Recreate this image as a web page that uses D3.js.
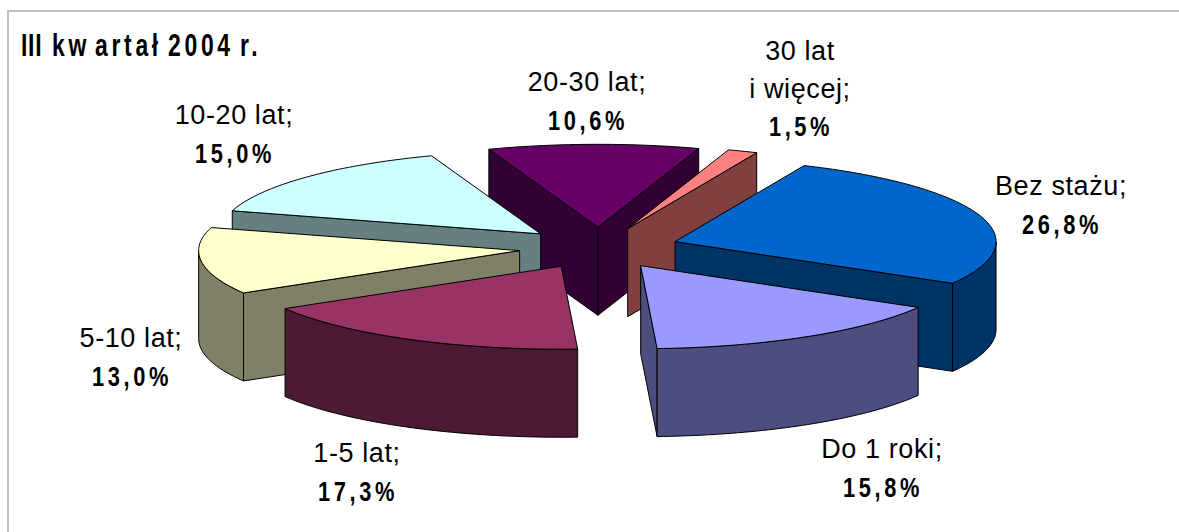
<!DOCTYPE html>
<html lang="pl">
<head>
<meta charset="utf-8">
<script src="https://cdn.jsdelivr.net/npm/d3@7"></script>
<style>
html,body{margin:0;padding:0;background:#fff;overflow:hidden}
svg{display:block}
text{font-family:"Liberation Sans",Arial,sans-serif;fill:#000}
</style>
</head>
<body>
<script>
const categories = ["Bez stażu","Do 1 roki","1-5 lat","5-10 lat","10-20 lat","20-30 lat","30 lat i więcej"];
const values = [26.8,15.8,17.3,13.0,15.0,10.6,1.5];
const valueLabels = ["26,8%","15,8%","17,3%","13,0%","15,0%","10,6%","1,5%"];
const labelLines = [["Bez stażu;"],["Do 1 roki;"],["1-5 lat;"],["5-10 lat;"],["10-20 lat;"],["20-30 lat;"],["30 lat","i więcej;"]];
const titleParts = ["III ","kw","artał ","2004","r."];
const topColors = ["#0066CC","#9999FF","#993366","#FFFFCC","#CCFFFF","#660066","#FF8080"];
const wallColors = ["#003366","#4D4D80","#4D1A33","#808066","#668080","#330033","#804040"];
// label layout: centre x and first-line baseline
const labelX = [1061,882,357,131,234,587,800];
const labelY = [195,458,462,347,124,91,60];
const titleX = [21,52,95,168,240];

const W=1179,H=532, cx=599, cy=248, rx=321, ry=83, explode=80, depth=88, lineGap=37.5;
const start=23.7*Math.PI/180;
const svg=d3.select("body").append("svg").attr("width",W).attr("height",H);
svg.append("path").attr("d",d3.line()([[1179,11],[8,11],[8,532]])).attr("fill","none").attr("stroke","#c0c0c0").attr("stroke-width",2);

const pie=d3.pie().sort(null).startAngle(start).endAngle(start+2*Math.PI);
const arcs=pie(values).map((d,i)=>{
  const mid=(d.startAngle+d.endAngle)/2;
  return {i,a:d.startAngle,b:d.endAngle,ox:cx+explode*Math.sin(mid),oy:cy-explode*ry/rx*Math.cos(mid)};
});
const line=d3.line();
const P=(s,t,z=0)=>[s.ox+rx*Math.sin(t),s.oy-ry*Math.cos(t)+z];
const arcPts=(s,a,b,z=0)=>{
  const n=Math.max(2,Math.ceil((b-a)/0.02));
  return d3.range(n+1).map(k=>P(s,a+(b-a)*k/n,z));
};
const style=(sel,fill)=>sel.attr("fill",fill).attr("stroke","#000").attr("stroke-width",1).attr("stroke-linejoin","round");
const g=svg.append("g");
arcs.slice().sort((p,q)=>p.oy-q.oy).forEach(s=>{
  const sg=g.append("g");
  const wall=s.i, O=[s.ox,s.oy], Od=[s.ox,s.oy+depth];
  if(Math.sin(s.a)<0) style(sg.append("path").attr("d",line([O,P(s,s.a),P(s,s.a,depth),Od])+"Z"),wallColors[wall]);
  if(Math.sin(s.b)>0) style(sg.append("path").attr("d",line([O,P(s,s.b),P(s,s.b,depth),Od])+"Z"),wallColors[wall]);
  const lo=Math.max(s.a,Math.PI/2), hi=Math.min(s.b,3*Math.PI/2);
  if(hi>lo){
    const top=arcPts(s,lo,hi), bot=arcPts(s,lo,hi,depth).reverse();
    style(sg.append("path").attr("d",line(top.concat(bot))+"Z"),wallColors[wall]);
  }
  style(sg.append("path").attr("d",line([O].concat(arcPts(s,s.a,s.b)))+"Z"),topColors[s.i]);
});

const boldScale=0.78, titleScale=0.74;
categories.forEach((c,i)=>{
  const lines=labelLines[i];
  const t=svg.append("g").attr("text-anchor","middle");
  lines.forEach((l,k)=>{
    t.append("text").attr("x",labelX[i]).attr("y",labelY[i]+k*lineGap)
     .attr("font-size",27).attr("letter-spacing",0.6).text(l);
  });
  t.append("text").attr("transform",`translate(${labelX[i]+1},${labelY[i]+lines.length*lineGap+1}) scale(${boldScale},1)`)
   .attr("font-size",28).attr("font-weight","bold").attr("letter-spacing",4.6).text(valueLabels[i]);
});

const title=svg.append("text").attr("transform",`translate(0,56) scale(${titleScale},1)`).attr("font-size",31).attr("font-weight","bold").attr("xml:space","preserve");
titleParts.forEach((p,i)=>{
  title.append("tspan").attr("x",titleX[i]/titleScale).attr("letter-spacing",i===0?1:5).text(p);
});
</script>
</body>
</html>
